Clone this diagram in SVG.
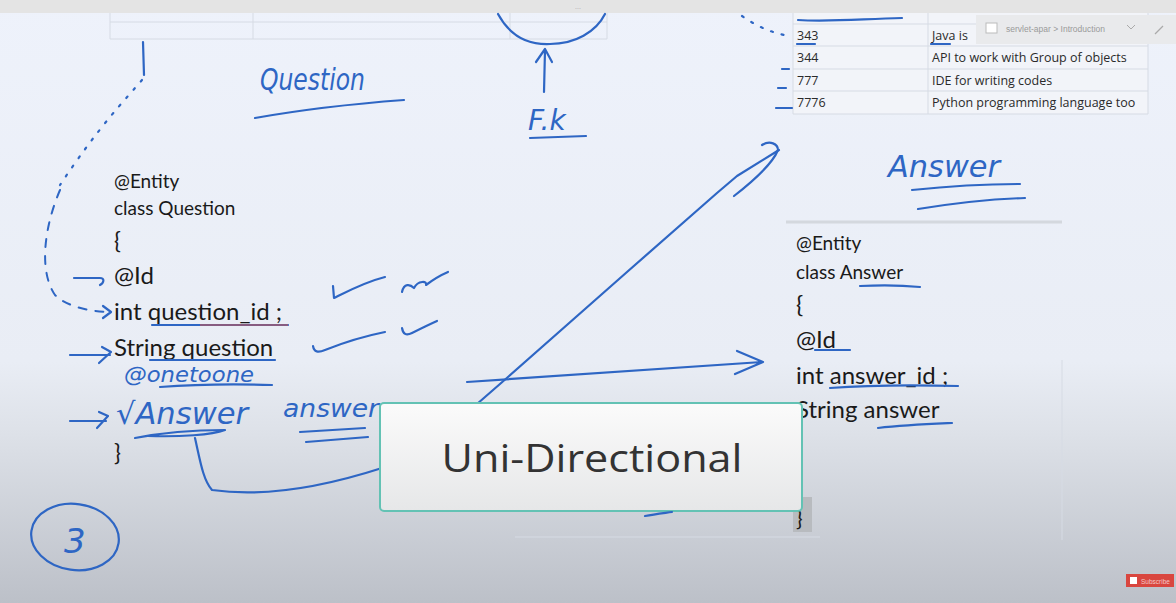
<svg xmlns="http://www.w3.org/2000/svg" width="1176" height="603" viewBox="0 0 1176 603">
<defs>
<linearGradient id="bg" x1="0" y1="0" x2="0" y2="1">
<stop offset="0" stop-color="#eef2fb"/>
<stop offset="0.6" stop-color="#e9edf5"/>
<stop offset="0.72" stop-color="#dde1e8"/>
<stop offset="1" stop-color="#bcc0c8"/>
</linearGradient>
<linearGradient id="box" x1="0" y1="0" x2="0" y2="1">
<stop offset="0" stop-color="#fbfbfb"/>
<stop offset="1" stop-color="#e6e7e8"/>
</linearGradient>
<style>
.ink{fill:none;stroke:#2e66c4;stroke-width:2.2;stroke-linecap:round;stroke-linejoin:round}
.dot{fill:none;stroke:#2e66c4;stroke-width:2.2;stroke-linecap:round;stroke-dasharray:2 9}
.dash{fill:none;stroke:#2e66c4;stroke-width:2;stroke-linecap:round;stroke-dasharray:8 9}
.hand{font-family:"DejaVu Sans",sans-serif;font-style:italic;fill:#2e66c4}
.code{font-family:Lato,"Open Sans",sans-serif;fill:#1a1a1a}
.tbl{font-family:"Open Sans",sans-serif;font-size:12.5px;fill:#2a2a2a}
.grid{fill:none;stroke:#d6dbe4;stroke-width:1}
</style>
</defs>
<rect width="1176" height="603" fill="url(#bg)"/>
<rect width="1176" height="13" fill="#e4e4e4"/>
<text x="578" y="9" font-family="Liberation Sans,sans-serif" font-size="7" fill="#aaa" text-anchor="middle">...</text>

<g id="top-left-table">
<path class="grid" d="M110 22H607M110 39H607M110 13V39M253 13V39M510 13V39M607 13V39"/>
</g>

<g id="fk-note">
<path class="ink" d="M498 14C510 36 528 45 550 44C575 44 596 32 605 14"/>
<path class="ink" d="M544 92L545 50M536 62L545 49L552 62"/>
<text class="hand" x="528" y="130" font-size="28" font-style="normal">F.k</text>
<path class="ink" d="M530 138L586 136"/>
</g>

<g id="question-heading">
<text class="hand" x="260" y="90" font-size="30" textLength="105" lengthAdjust="spacingAndGlyphs">Question</text>
<path class="ink" d="M255 118C300 110 350 104 404 100"/>
</g>

<g id="top-right-table">
<rect x="793" y="13" width="355" height="101" fill="#f2f4f9"/>
<path class="grid" d="M793 24H1148M793 46H1148M793 69H1148M793 91H1148M793 114H1148M793 13V114M928 13V114M1148 13V114"/>
<text class="tbl" x="797" y="40">343</text>
<text class="tbl" x="932" y="40">Java is</text>
<text class="tbl" x="797" y="62">344</text>
<text class="tbl" x="932" y="62">API to work with Group of objects</text>
<text class="tbl" x="797" y="85">777</text>
<text class="tbl" x="932" y="85">IDE for writing codes</text>
<text class="tbl" x="797" y="107">7776</text>
<text class="tbl" x="932" y="107">Python programming language too</text>
<path class="ink" d="M798 20C830 22 860 19 902 18" stroke-width="3"/>
<path class="ink" d="M797 44H815M931 44H950M782 69H789M778 88H786M776 108H792" />
<path class="dot" d="M742 16C755 25 770 33 790 36"/>
<rect x="976" y="15" width="200" height="29" fill="#e9eaec"/>
<rect x="986" y="23" width="11" height="10" fill="#fff" stroke="#bbb"/>
<text x="1006" y="32" font-family="Liberation Sans,sans-serif" font-size="8.5" fill="#9a9a9a">servlet-apar &gt; Introduction</text>
<path d="M1127 25L1131 29L1135 25" fill="none" stroke="#aaa"/>
<path d="M1155 34L1163 26" stroke="#aaa" stroke-width="1.2"/>
</g>

<g id="answer-heading">
<text class="hand" x="888" y="177" font-size="30" textLength="112" lengthAdjust="spacingAndGlyphs">Answer</text>
<path class="ink" d="M912 190C950 186 985 184 1020 184M918 209C955 203 990 199 1025 198"/>
</g>

<g id="question-class">
<text class="code" x="114" y="188" font-size="19">@Entity</text>
<text class="code" x="114" y="215" font-size="19">class Question</text>
<text class="code" x="114" y="249" font-size="23">{</text>
<text class="code" x="114" y="284" font-size="24">@Id</text>
<text class="code" x="114" y="320" font-size="24">int question_id ;</text>
<text class="code" x="114" y="356" font-size="24">String question</text>
<text class="code" x="114" y="461" font-size="23">}</text>
</g>

<g id="question-annotations">
<path class="ink" d="M74 278H100C105 278 104 283 100 285"/>
<path class="ink" d="M70 355H110M102 347L111 352L99 363"/>
<path class="ink" d="M70 421H106M99 412L108 416L97 428"/>
<path class="ink" d="M152 325H288" stroke-width="1.6"/>
<path d="M200 325H288" stroke="#e0533f" stroke-width="1"/>
<path class="ink" d="M333 286L334 298C350 290 365 282 385 277"/>
<path class="ink" d="M402 292C404 283 410 284 414 288C418 280 428 281 426 285C434 279 441 275 448 272"/>
<path class="ink" d="M313 346C314 352 318 353 325 350C345 342 365 336 385 332"/>
<path class="ink" d="M402 328C403 334 406 336 412 333C420 329 428 325 437 321"/>
<text class="hand" x="124" y="382" font-size="21" textLength="130" lengthAdjust="spacingAndGlyphs">@onetoone</text>
<path class="ink" d="M160 387C200 384 235 384 272 385M150 360H275"/>
<text class="hand" x="116" y="424" font-size="30" textLength="132" lengthAdjust="spacingAndGlyphs">√Answer</text>
<path class="ink" d="M135 438C165 432 195 430 225 430C212 435 180 437 148 436" stroke-width="3"/>
<text class="hand" x="283" y="417" font-size="24" textLength="96" lengthAdjust="spacingAndGlyphs">answer</text>
<path class="ink" d="M300 432L365 428M306 442L368 437"/>
</g>

<g id="answer-class">
<path d="M786 222H1062" stroke="#d4d8de" stroke-width="3"/>
<path class="grid" d="M1062 360V540M515 537H820"/>
<rect x="793" y="497" width="19" height="35" fill="#b8bbbf"/>
<text class="code" x="796" y="250" font-size="19">@Entity</text>
<text class="code" x="796" y="279" font-size="19">class Answer</text>
<text class="code" x="796" y="313" font-size="24">{</text>
<text class="code" x="796" y="348" font-size="24">@Id</text>
<text class="code" x="796" y="384" font-size="24">int answer_id ;</text>
<text class="code" x="796" y="418" font-size="24">String answer</text>
<text class="code" x="796" y="526" font-size="22">}</text>
<path class="ink" d="M860 286C880 285 900 285 920 287M815 350H850M830 388C870 385 920 385 958 386M878 428C905 425 930 424 952 423"/>
</g>

<g id="connectors">
<path class="dot" d="M142 80C125 100 100 125 60 185"/>
<path class="ink" d="M143 42L144 75"/>
<path class="dash" d="M60 190C45 225 38 270 55 295C65 305 85 311 107 312"/>
<path class="ink" d="M103 306L111 312L103 318"/>
<path class="ink" d="M195 438C200 460 203 480 212 490C260 497 320 488 382 468"/>
<path class="ink" d="M467 382C560 376 660 368 762 362M737 351L763 362L735 374"/>
<path class="ink" d="M477 404L508 377L627 272L717 193L737 176L779 150"/>
<path class="ink" d="M762 145C770 140 778 144 778 150C772 165 752 182 734 196"/>
</g>

<g id="uni-directional">
<rect x="380" y="403" width="422" height="108" rx="4" fill="url(#box)" stroke="#63c2b4" stroke-width="2"/>
<text x="592" y="472" text-anchor="middle" font-family="Open Sans,sans-serif" font-size="38" fill="#333" textLength="301" lengthAdjust="spacingAndGlyphs">Uni-Directional</text>
<path class="ink" d="M645 516C655 514 665 513 672 512"/>
</g>

<g id="step-3">
<ellipse cx="75" cy="537" rx="44" ry="33" fill="none" stroke="#2e66c4" stroke-width="2.2" transform="rotate(8 75 537)"/>
<text class="hand" x="64" y="553" font-size="34" font-style="normal">3</text>
</g>

<g id="subscribe">
<rect x="1126" y="574" width="48" height="13" fill="#d9463f"/>
<text x="1141" y="583.5" font-family="Liberation Sans,sans-serif" font-size="6.5" fill="#f4c7c4">Subscribe</text>
<rect x="1130" y="577" width="7" height="7" fill="#fff"/>
</g>
</svg>
